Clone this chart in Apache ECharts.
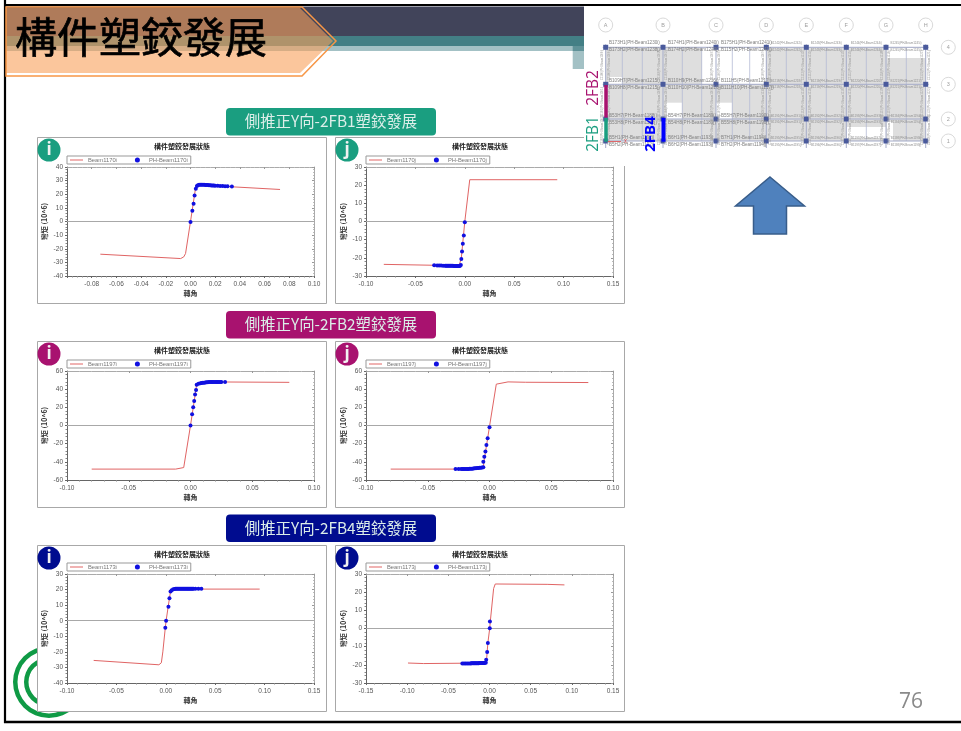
<!DOCTYPE html>
<html>
<head>
<meta charset="utf-8">
<style>
  html, body { margin: 0; padding: 0; background: #fff; }
  #main { width: 961px; height: 731px; }
</style>
<script src="https://cdn.jsdelivr.net/npm/echarts@6/dist/echarts.min.js"></script>
</head>
<body>
<div id="main"></div>
<script>
// values: [rotation, moment]
var beam1170iLine = [[-0.073,-24],[-0.008,-27.2],[-0.0055,-26],[-0.004,-23.5],[0,0],[0.004,24],[0.0055,26.2],[0.008,27],[0.033,25.5],[0.0725,23.5]];
var beam1170iPH = [[0,-0.3],[0.0015,7.8],[0.0025,13],[0.0033,19],[0.0043,24],[0.0052,26],[0.006,26.6],[0.007,26.9],[0.008,27],[0.009,27],[0.01,27],[0.011,26.9],[0.012,26.8],[0.013,26.8],[0.014,26.7],[0.015,26.6],[0.016,26.6],[0.017,26.5],[0.018,26.4],[0.019,26.4],[0.02,26.3],[0.022,26.2],[0.024,26.1],[0.026,26],[0.028,25.9],[0.03,25.8],[0.0335,25.6]];

var beam1170jLine = [[-0.082,-23.6],[-0.03,-24.1],[-0.006,-24.8],[-0.0042,-24],[-0.0035,-20],[0,0],[0.005,23],[0.0936,23]];
var beam1170jPH = [[0,-0.4],[-0.001,-7.7],[-0.002,-12.2],[-0.0028,-16.5],[-0.0035,-20.7],[-0.004,-24],[-0.005,-24.5],[-0.006,-24.5],[-0.007,-24.5],[-0.008,-24.5],[-0.009,-24.5],[-0.01,-24.5],[-0.011,-24.5],[-0.012,-24.4],[-0.013,-24.4],[-0.014,-24.4],[-0.015,-24.4],[-0.016,-24.4],[-0.017,-24.4],[-0.018,-24.4],[-0.019,-24.3],[-0.02,-24.3],[-0.022,-24.3],[-0.024,-24.2],[-0.026,-24.2],[-0.028,-24.2],[-0.031,-24.1]];

var beam1197iLine = [[-0.08,-48],[-0.012,-48],[-0.0055,-46.3],[0,0],[0.005,45],[0.008,46.5],[0.015,48],[0.08,47.5]];
var beam1197iPH = [[0,0],[0.0013,12.5],[0.0022,20],[0.003,27],[0.0037,34],[0.0045,39],[0.005,45],[0.0065,46],[0.008,46.5],[0.009,46.8],[0.01,47],[0.011,47.1],[0.012,47.3],[0.013,47.5],[0.014,47.7],[0.015,47.9],[0.016,48],[0.017,48],[0.018,48],[0.019,48],[0.02,48],[0.021,47.9],[0.022,47.9],[0.023,47.9],[0.024,47.9],[0.025,47.8],[0.028,47.8]];

var beam1197jLine = [[-0.08,-48],[-0.028,-48],[-0.012,-47],[-0.005,-46],[-0.0045,-40],[0,-1],[0.0055,45.5],[0.015,48],[0.029,47.6],[0.08,47.3]];
var beam1197jPH = [[0,-2],[-0.0015,-14],[-0.0025,-21.5],[-0.0033,-28.5],[-0.0042,-34.5],[-0.005,-40],[-0.005,-46],[-0.006,-46.2],[-0.007,-46.4],[-0.008,-46.6],[-0.009,-46.8],[-0.01,-46.9],[-0.011,-47],[-0.012,-47.1],[-0.013,-47.3],[-0.014,-47.5],[-0.015,-47.6],[-0.016,-47.7],[-0.017,-47.8],[-0.018,-47.9],[-0.019,-47.9],[-0.02,-48],[-0.021,-48],[-0.022,-48],[-0.023,-48],[-0.025,-48],[-0.0275,-48]];

var beam1173iLine = [[-0.073,-25.5],[-0.007,-28.3],[-0.0045,-27],[-0.003,-20],[-0.0005,-4.5],[0.0003,0],[0.0037,14.5],[0.0048,18.8],[0.007,20.3],[0.095,20.3]];
var beam1173iPH = [[-0.0005,-4.5],[0.0003,0],[0.0027,9],[0.0037,14.5],[0.0048,18.8],[0.006,19.5],[0.0075,20.2],[0.009,20.4],[0.01,20.5],[0.011,20.5],[0.012,20.5],[0.013,20.5],[0.014,20.5],[0.015,20.5],[0.016,20.5],[0.017,20.5],[0.018,20.5],[0.019,20.5],[0.02,20.5],[0.021,20.5],[0.022,20.5],[0.023,20.5],[0.024,20.5],[0.025,20.5],[0.026,20.5],[0.027,20.5],[0.028,20.5],[0.03,20.5],[0.033,20.5],[0.036,20.5]];

var beam1173jLine = [[-0.099,-19],[-0.08,-19.3],[-0.005,-19],[-0.0035,-17],[-0.002,-8],[0.0003,0.2],[0.001,4],[0.005,22],[0.007,24.5],[0.07,24.3],[0.091,24]];
var beam1173jPH = [[0.0005,3.8],[0.0003,0.2],[-0.002,-8],[-0.0028,-13],[-0.004,-17.2],[-0.0045,-18.8],[-0.006,-19],[-0.007,-19],[-0.008,-19],[-0.009,-19],[-0.01,-19],[-0.011,-19],[-0.012,-19],[-0.013,-19.1],[-0.014,-19.1],[-0.015,-19.1],[-0.016,-19.1],[-0.017,-19.1],[-0.018,-19.1],[-0.019,-19.1],[-0.02,-19.1],[-0.021,-19.1],[-0.022,-19.1],[-0.023,-19.2],[-0.025,-19.2],[-0.027,-19.2],[-0.029,-19.2],[-0.031,-19.2],[-0.033,-19.2]];

var sectionTitles = ['側推正Y向-2FB1塑鉸發展', '側推正Y向-2FB2塑鉸發展', '側推正Y向-2FB4塑鉸發展'];
var sectionColors = ['#1a9e80', '#a8126f', '#000c8f'];
var chartTitle = '構件塑鉸發展狀態';
var xName = '轉角';
var yName = '彎矩 (10^6)';

var panels = [
  { id: 'Beam1170i', tag: 'i', row: 0, col: 0, line: beam1170iLine, ph: beam1170iPH, x: [-0.1, 0.1, 0.02], y: [-40, 40, 10] },
  { id: 'Beam1170j', tag: 'j', row: 0, col: 1, line: beam1170jLine, ph: beam1170jPH, x: [-0.1, 0.15, 0.05], y: [-30, 30, 10] },
  { id: 'Beam1197i', tag: 'i', row: 1, col: 0, line: beam1197iLine, ph: beam1197iPH, x: [-0.1, 0.1, 0.05], y: [-60, 60, 20] },
  { id: 'Beam1197j', tag: 'j', row: 1, col: 1, line: beam1197jLine, ph: beam1197jPH, x: [-0.1, 0.1, 0.05], y: [-60, 60, 20] },
  { id: 'Beam1173i', tag: 'i', row: 2, col: 0, line: beam1173iLine, ph: beam1173iPH, x: [-0.1, 0.15, 0.05], y: [-40, 30, 10] },
  { id: 'Beam1173j', tag: 'j', row: 2, col: 1, line: beam1173jLine, ph: beam1173jPH, x: [-0.15, 0.15, 0.05], y: [-30, 30, 10] }
];

var frameLeft = [37.5, 335.5];
var frameTop = [137.5, 341.5, 545.5];
var plotLeft = [67, 366];
var plotTop = [167, 371, 574];
var pillTop = [108, 311, 514.5];

var latin = '"Liberation Sans", Arial, sans-serif';
var cjk = '"Noto Sans CJK TC", "Noto Sans", sans-serif';
// thin bar inside a 13:5 box, so the legend sample stays a full width line
var legendLine = 'path://M0,0 L0,0 M0,40 L260,40 L260,60 L0,60 Z M260,100 L260,100';

var grids = [], xAxes = [], yAxes = [], series = [], legends = [], graphics = [];

function fmt(v) { return v.toFixed(2); }

function rect(x, y, w, h, fill, z, stroke, r) {
  graphics.push({ type: 'rect', silent: true, z: z, shape: { x: x, y: y, width: w, height: h, r: r || 0 },
    style: { fill: fill, stroke: stroke || null, lineWidth: stroke ? 1 : 0 } });
}
function seg(x1, y1, x2, y2, color, w, z) {
  graphics.push({ type: 'line', silent: true, z: z, shape: { x1: x1, y1: y1, x2: x2, y2: y2 },
    style: { stroke: color, lineWidth: w } });
}
function label(t, x, y, font, fill, z, align, rot) {
  graphics.push({ type: 'text', silent: true, z: z, x: x, y: y, rotation: rot || 0,
    style: { text: t, font: font, fill: fill, align: align || 'center', verticalAlign: 'middle' } });
}

panels.forEach(function (p, i) {
  var gl = plotLeft[p.col], gt = plotTop[p.row];
  grids.push({ left: gl, top: gt, width: 247, height: 109 });

  xAxes.push({
    type: 'value', gridIndex: i, min: p.x[0], max: p.x[1], interval: p.x[2], position: 'bottom',
    name: xName, nameLocation: 'middle', nameGap: 14,
    nameTextStyle: { fontFamily: cjk, fontSize: 7, fontWeight: 'bold', color: '#333' },
    axisLine: { onZero: false, lineStyle: { color: '#666', width: 1 } },
    axisTick: { inside: false, length: 2, lineStyle: { color: '#666' } },
    minorTick: { show: true, splitNumber: 5, length: 1.5, lineStyle: { color: '#888' } },
    splitLine: { show: false },
    axisLabel: { fontFamily: latin, fontSize: 6.5, color: '#555', margin: 5, formatter: fmt, showMinLabel: p.x[2] !== 0.02 }
  });
  yAxes.push({
    type: 'value', gridIndex: i, min: p.y[0], max: p.y[1], interval: p.y[2], position: 'left',
    name: yName, nameLocation: 'middle', nameGap: 19,
    nameTextStyle: { fontFamily: cjk, fontSize: 7, fontWeight: 'bold', color: '#333' },
    axisLine: { onZero: false, lineStyle: { color: '#666', width: 1 } },
    axisTick: { inside: false, length: 2, lineStyle: { color: '#666' } },
    minorTick: { show: true, splitNumber: 5, length: 1.5, lineStyle: { color: '#888' } },
    splitLine: { show: false },
    axisLabel: { fontFamily: latin, fontSize: 6.5, color: '#555', margin: 4 }
  });
  // top and right edges of the plot box, ticks only
  xAxes.push({
    type: 'value', gridIndex: i, min: p.x[0], max: p.x[1], interval: p.x[2], position: 'top',
    axisLine: { onZero: false, lineStyle: { color: '#aaa' } },
    axisTick: { inside: true, length: 2, lineStyle: { color: '#999' } },
    minorTick: { show: true, splitNumber: 5, length: 1, lineStyle: { color: '#bbb' } },
    splitLine: { show: false }, axisLabel: { show: false }
  });
  yAxes.push({
    type: 'value', gridIndex: i, min: p.y[0], max: p.y[1], interval: p.y[2], position: 'right',
    axisLine: { onZero: false, lineStyle: { color: '#aaa' } },
    axisTick: { inside: true, length: 2, lineStyle: { color: '#999' } },
    minorTick: { show: true, splitNumber: 5, length: 1, lineStyle: { color: '#bbb' } },
    splitLine: { show: false }, axisLabel: { show: false }
  });

  series.push({
    name: p.id, type: 'line', xAxisIndex: 2 * i, yAxisIndex: 2 * i, data: p.line,
    symbol: 'none', lineStyle: { color: '#e06464', width: 1 }, itemStyle: { color: '#e06464' },
    markLine: { silent: true, symbol: 'none', label: { show: false }, data: [{ yAxis: 0 }],
      lineStyle: { color: '#a8a8a8', width: 1, type: 'solid' } }
  });
  series.push({
    name: 'PH-' + p.id, type: 'scatter', xAxisIndex: 2 * i, yAxisIndex: 2 * i, data: p.ph, z: 5,
    symbol: 'circle', symbolSize: 4, itemStyle: { color: '#1010e0', opacity: 1 }
  });

  legends.push({
    data: [{ name: p.id, icon: legendLine }, { name: 'PH-' + p.id, icon: 'circle' }],
    left: gl, top: gt - 11, orient: 'horizontal',
    itemWidth: 13, itemHeight: 5, itemGap: 18, padding: [0.5, 3],
    borderColor: '#999', borderWidth: 1, selectedMode: false,
    textStyle: { fontFamily: latin, fontSize: 5.8, color: '#777', lineHeight: 7 }
  });

  // frame, chart title, i/j badge
  var fl = frameLeft[p.col], ft = frameTop[p.row];
  rect(fl, ft, 289, 166, '#fff', -1, '#a8a8a8');
  label(chartTitle, fl + 144.5, ft + 8.5, 'bold 7px ' + cjk, '#222', 5);
  var badgeX = fl + 11.5, badgeY = ft + 12.5;
  graphics.push({ type: 'circle', silent: true, z: 60, shape: { cx: badgeX, cy: badgeY, r: 11.5 },
    style: { fill: sectionColors[p.row] } });
  label(p.tag, badgeX, badgeY, 'bold 17px "Open Sans", sans-serif', '#f2f2f2', 61);
});

// slide background
seg(5, 0, 5, 723, '#000', 2.2, -3);
seg(4, 5, 961, 5, '#000', 2.2, -3);
seg(4, 722, 961, 722, '#000', 2.4, -3);
rect(6, 6.5, 578, 29.5, '#41445a', -4);
rect(6, 36, 578, 10, '#437f85', -4);
rect(6, 46, 567, 5, '#a3c1c5', -4);
rect(572.7, 46, 11.3, 5, '#5f9298', -4);
rect(572.7, 51, 11.3, 18, '#a3c1c5', -4);
graphics.push({ type: 'polygon', silent: true, z: -3, shape: { points: [[6, 8], [300, 8], [333, 41], [300, 73], [6, 73]] },
  style: { fill: 'rgba(248,160,90,0.6)' } });
graphics.push({ type: 'polygon', silent: true, z: -3, shape: { points: [[6, 7], [302, 7], [336, 41], [302, 76], [6, 76]] },
  style: { fill: null, stroke: '#f79646', lineWidth: 1.5 } });
graphics.push({ type: 'text', silent: true, z: -2, x: 15, y: 37,
  style: { text: '構件塑鉸發展', font: '42px ' + cjk, fill: '#000', stroke: '#000', lineWidth: 0.7, align: 'left', verticalAlign: 'middle' } });

// logo behind the last frame
graphics.push({ type: 'ring', silent: true, z: -2, shape: { cx: 49, cy: 682, r: 36, r0: 31.5 }, style: { fill: '#0f9a45' } });
graphics.push({ type: 'ring', silent: true, z: -2, shape: { cx: 49, cy: 682, r: 25, r0: 20.5 }, style: { fill: '#0f9a45' } });

// section pills
sectionTitles.forEach(function (t, i) {
  rect(226, pillTop[i], 210, 27.5, sectionColors[i], 5, null, 4);
  label(t, 331, pillTop[i] + 13.5, '15.4px ' + cjk, '#dceee9', 6);
});

// arrow and page number
graphics.push({ type: 'polygon', silent: true, z: 5,
  shape: { points: [[770, 177], [804.5, 206], [786.5, 206], [786.5, 234], [753.5, 234], [753.5, 206], [735.5, 206]] },
  style: { fill: '#4f81bd', stroke: '#385d8a', lineWidth: 1.5 } });
label('76', 911, 702, '21px "Open Sans", sans-serif', '#8a8a8a', 5);

// floor plan picture, top right
var colX = [605.7, 663, 716, 766.3, 806.3, 846.3, 886, 925.7];
var colNames = ['A', 'B', 'C', 'D', 'E', 'F', 'G', 'H'];
var rowY = [47.3, 84.3, 119, 141];
var rowNames = ['4', '3', '2', '1'];
var slabHoles = [[702, 43, 64, 41], [666.7, 102.7, 15.3, 16.3], [716, 102.7, 16, 16.3], [847, 127, 39, 11], [887, 48, 38.7, 10], [887, 122, 6, 19], [609, 77, 13, 8]];
var subLines = [622.3, 642.3, 682.3, 701.7, 732.3, 749.7, 786.3, 826.3, 866.3, 906.3];
var planZ = 50, n;

rect(584, 6.5, 377, 159.5, '#fff', planZ);
rect(colX[0], rowY[0], colX[7] - colX[0], rowY[3] - rowY[0], '#dedede', planZ);
slabHoles.forEach(function (h) { rect(h[0], h[1], h[2], h[3], '#fff', planZ); });
subLines.forEach(function (x) { seg(x, rowY[0], x, rowY[3], '#b4bad4', 0.8, planZ); });
colX.forEach(function (x) { seg(x, rowY[0] - 3, x, rowY[3] + 7, '#a4abc8', 1, planZ); });
rowY.forEach(function (y) { seg(colX[0] - 3, y, colX[7] + 3, y, '#a4abc8', 1, planZ); });
colX.forEach(function (x, i) {
  graphics.push({ type: 'circle', silent: true, z: planZ, shape: { cx: x, cy: 25, r: 7 }, style: { fill: '#fff', stroke: '#cfcfcf', lineWidth: 0.8 } });
  label(colNames[i], x, 25, '5.5px ' + latin, '#a0a0a0', planZ);
  rowY.forEach(function (y) { rect(x - 2.5, y - 2.5, 5, 5, '#4a5a9c', planZ); });
});
rowY.forEach(function (y, i) {
  graphics.push({ type: 'circle', silent: true, z: planZ, shape: { cx: 948.3, cy: y, r: 7 }, style: { fill: '#fff', stroke: '#cfcfcf', lineWidth: 0.8 } });
  label(rowNames[i], 948.3, y, '5.5px ' + latin, '#a0a0a0', planZ);
});

// hinge labels
var hingeRows = [
  ['B173H1(PH-Beam1230i)', 'B173H2(PH-Beam1238j)', 'B174H1(PH-Beam1240i)', 'B174H2(PH-Beam1240j)', 'B175H1(PH-Beam1241i)', 'B115H2(PH-Beam1241j)'],
  ['B109H7(PH-Beam1215i)', 'B109H8(PH-Beam1215j)', 'B110H9(PH-Beam1216i)', 'B110H10(PH-Beam1216j)', 'B111H5(PH-Beam1217i)', 'B111H10(PH-Beam1217j)'],
  ['B53H7(PH-Beam1188i)', 'B53H8(PH-Beam1188j)', 'B54H7(PH-Beam1189i)', 'B54H8(PH-Beam1189j)', 'B55H7(PH-Beam1190i)', 'B55H8(PH-Beam1190j)'],
  ['B5H1(PH-Beam1192i)', 'B5H2(PH-Beam1192j)', 'B6H1(PH-Beam1193i)', 'B6H2(PH-Beam1193j)', 'B7H1(PH-Beam1194i)', 'B7H2(PH-Beam1194j)']
];
var rowTextTop = [43, 80.7, 115.5, 138];
var rowNums = [[1242, 1243, 1244, 1245], [1218, 1219, 1220, 1221], [1191, 1192, 1193, 1194], [1195, 1196, 1197, 1198]];
hingeRows.forEach(function (r, i) {
  var y = rowTextTop[i];
  label(r[0], 609, y, '4.6px ' + latin, '#808080', planZ, 'left');
  label(r[1], 609, y + 6.8, '4.6px ' + latin, '#808080', planZ, 'left');
  label(r[2], 668, y, '4.6px ' + latin, '#808080', planZ, 'left');
  label(r[3], 668, y + 6.8, '4.6px ' + latin, '#808080', planZ, 'left');
  label(r[4], 721, y, '4.6px ' + latin, '#808080', planZ, 'left');
  label(r[5], 721, y + 6.8, '4.6px ' + latin, '#808080', planZ, 'left');
  rowNums[i].forEach(function (num, k) {
    label('B' + num + '(PH-Beam' + num + 'i)', colX[3 + k] + 20, y + 0.5, '3px ' + latin, '#909090', planZ);
    label('B' + num + '(PH-Beam' + num + 'j)', colX[3 + k] + 20, y + 6.8, '3px ' + latin, '#909090', planZ);
  });
});
colX.forEach(function (x, k) {
  [65, 102, 130].forEach(function (y, j) {
    n = 1100 + k * 3 + j;
    label('C' + n + '(PH-Beam' + n + 'i)', x - 3.5, y, '3px ' + latin, '#a0a0a0', planZ, 'center', Math.PI / 2);
    label('C' + n + '(PH-Beam' + n + 'j)', x + 3.5, y, '3px ' + latin, '#a0a0a0', planZ, 'center', Math.PI / 2);
  });
});

// picked frames
seg(606, 85, 606, 117.5, '#a8126f', 3.5, planZ);
seg(606, 118, 606, 141.7, '#1a9e80', 3.5, planZ);
seg(663.5, 118, 663.5, 141.7, '#0000ff', 4, planZ);
seg(608, 141.5, 621, 141.5, '#e24a4a', 0.8, planZ);
label('X', 625.5, 141.5, '5px ' + latin, '#e24a4a', planZ);
label('2FB2', 594, 88, '15.5px "Open Sans", sans-serif', '#a8126f', planZ, 'center', Math.PI / 2);
label('2FB1', 594, 134, '15.5px "Open Sans", sans-serif', '#1a9e80', planZ, 'center', Math.PI / 2);
label('2FB4', 651, 134, 'bold 15px "Open Sans", sans-serif', '#0000ff', planZ, 'center', Math.PI / 2);

var myChart = echarts.init(document.getElementById('main'));
myChart.setOption({
  animation: false,
  backgroundColor: '#fff',
  grid: grids,
  xAxis: xAxes,
  yAxis: yAxes,
  legend: legends,
  series: series,
  graphic: { elements: graphics }
});
</script>
</body>
</html>
